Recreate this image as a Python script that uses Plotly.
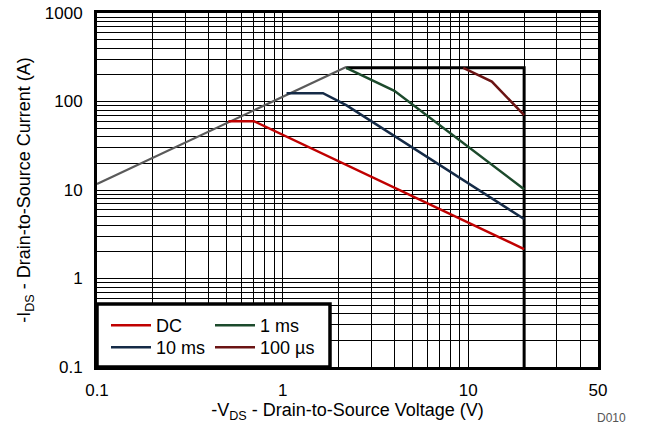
import numpy as np
import plotly.graph_objects as go

# ---- data ----
limit_v = [0.1, 2.2]
limit_i = [11.7, 245]

dc_v = [0.51, 0.70, 20]
dc_i = [60, 60, 2.15]

ms10_v = [1.05, 1.65, 2.2, 20]
ms10_i = [124, 124, 91, 4.7]

ms1_v = [2.2, 4.0, 20]
ms1_i = [240, 132, 10.2]

us100_v = [9.4, 13.4, 20]
us100_i = [240, 168, 70]

box_v = [2.2, 20, 20]
box_i = [240, 240, 0.1]

x_tickvals = [0.1, 1, 10, 50]
x_ticktext = ["0.1", "1", "10", "50"]
y_tickvals = [0.1, 1, 10, 100, 1000]
y_ticktext = ["0.1", "1", "10", "100", "1000"]
x_minor = [0.2, 0.3, 0.4, 0.5, 0.6, 0.7, 0.8, 0.9,
           2, 3, 4, 5, 6, 7, 8, 9, 20, 30, 40]
y_minor = [m * d for d in [0.1, 1, 10, 100] for m in range(2, 10)]

FONT = "Liberation Sans, Arial, sans-serif"

fig = go.Figure()
fig.add_trace(go.Scatter(x=limit_v, y=limit_i, mode="lines",
                         line=dict(color="#5a5a5a", width=2.2), showlegend=False))
fig.add_trace(go.Scatter(x=box_v, y=box_i, mode="lines",
                         line=dict(color="black", width=3), showlegend=False))
fig.add_trace(go.Scatter(x=dc_v, y=dc_i, mode="lines", name="DC",
                         line=dict(color="#c00000", width=2.5), legend="legend"))
fig.add_trace(go.Scatter(x=ms10_v, y=ms10_i, mode="lines", name="10 ms",
                         line=dict(color="#152b47", width=2.5), legend="legend2"))
fig.add_trace(go.Scatter(x=ms1_v, y=ms1_i, mode="lines", name="1 ms",
                         line=dict(color="#1c4a2c", width=2.5), legend="legend3"))
fig.add_trace(go.Scatter(x=us100_v, y=us100_i, mode="lines", name="100 µs",
                         line=dict(color="#6b1414", width=2.5), legend="legend4"))

L, R, T, B = 97, 48, 13, 62
W, H = 646, 429
pw = W - L - R
ph = H - T - B

def px_x(p):
    return (p - L) / pw

def px_y(p):
    return (H - B - p) / ph

legend_common = dict(
    bgcolor="rgba(0,0,0,0)", borderwidth=0,
    font=dict(family=FONT, size=18, color="black"),
    xanchor="left", yanchor="top", orientation="v",
    tracegroupgap=0, itemwidth=40,
)

fig.update_layout(
    width=W, height=H,
    margin=dict(l=L, r=R, t=T, b=B, autoexpand=False),
    paper_bgcolor="white", plot_bgcolor="white",
    font=dict(family=FONT, size=17, color="black"),
    legend=dict(x=px_x(106), y=px_y(307), **legend_common),
    legend2=dict(x=px_x(106), y=px_y(329), **legend_common),
    legend3=dict(x=px_x(210), y=px_y(307), **legend_common),
    legend4=dict(x=px_x(210), y=px_y(329), **legend_common),
    xaxis=dict(
        type="log", range=[-1, np.log10(50)],
        tickvals=x_tickvals, ticktext=x_ticktext,
        showgrid=True, gridcolor="black", gridwidth=1.2,
        minor=dict(tickvals=x_minor, showgrid=True, gridcolor="black", gridwidth=1.2),
        showline=True, linecolor="black", linewidth=3, mirror=True,
        ticks="", ticklabelstandoff=6,
        tickfont=dict(family=FONT, size=17),
        title=dict(text="-V<sub>DS</sub> - Drain-to-Source Voltage (V)",
                   font=dict(family=FONT, size=18), standoff=4),
        zeroline=False,
    ),
    yaxis=dict(
        type="log", range=[-1, 3],
        tickvals=y_tickvals, ticktext=y_ticktext,
        showgrid=True, gridcolor="black", gridwidth=1.2,
        minor=dict(tickvals=y_minor, showgrid=True, gridcolor="black", gridwidth=1.2),
        showline=True, linecolor="black", linewidth=3, mirror=True,
        ticks="", ticklabelstandoff=8,
        tickfont=dict(family=FONT, size=17),
        title=dict(text="-I<sub>DS</sub> - Drain-to-Source Current (A)",
                   font=dict(family=FONT, size=18), standoff=10),
        zeroline=False,
    ),
    shapes=[dict(type="rect", xref="paper", yref="paper",
                 x0=0, x1=px_x(330), y0=0, y1=px_y(304),
                 line=dict(color="black", width=3.5), fillcolor="white",
                 layer="above")],
    annotations=[dict(text="D010", xref="paper", yref="paper",
                      x=px_x(628), y=px_y(418), xanchor="right", yanchor="middle",
                      showarrow=False, font=dict(family=FONT, size=12, color="#555555"))],
)

fig.write_html("out.html", config={"displayModeBar": False},
               post_script="document.body.style.margin='0';")
